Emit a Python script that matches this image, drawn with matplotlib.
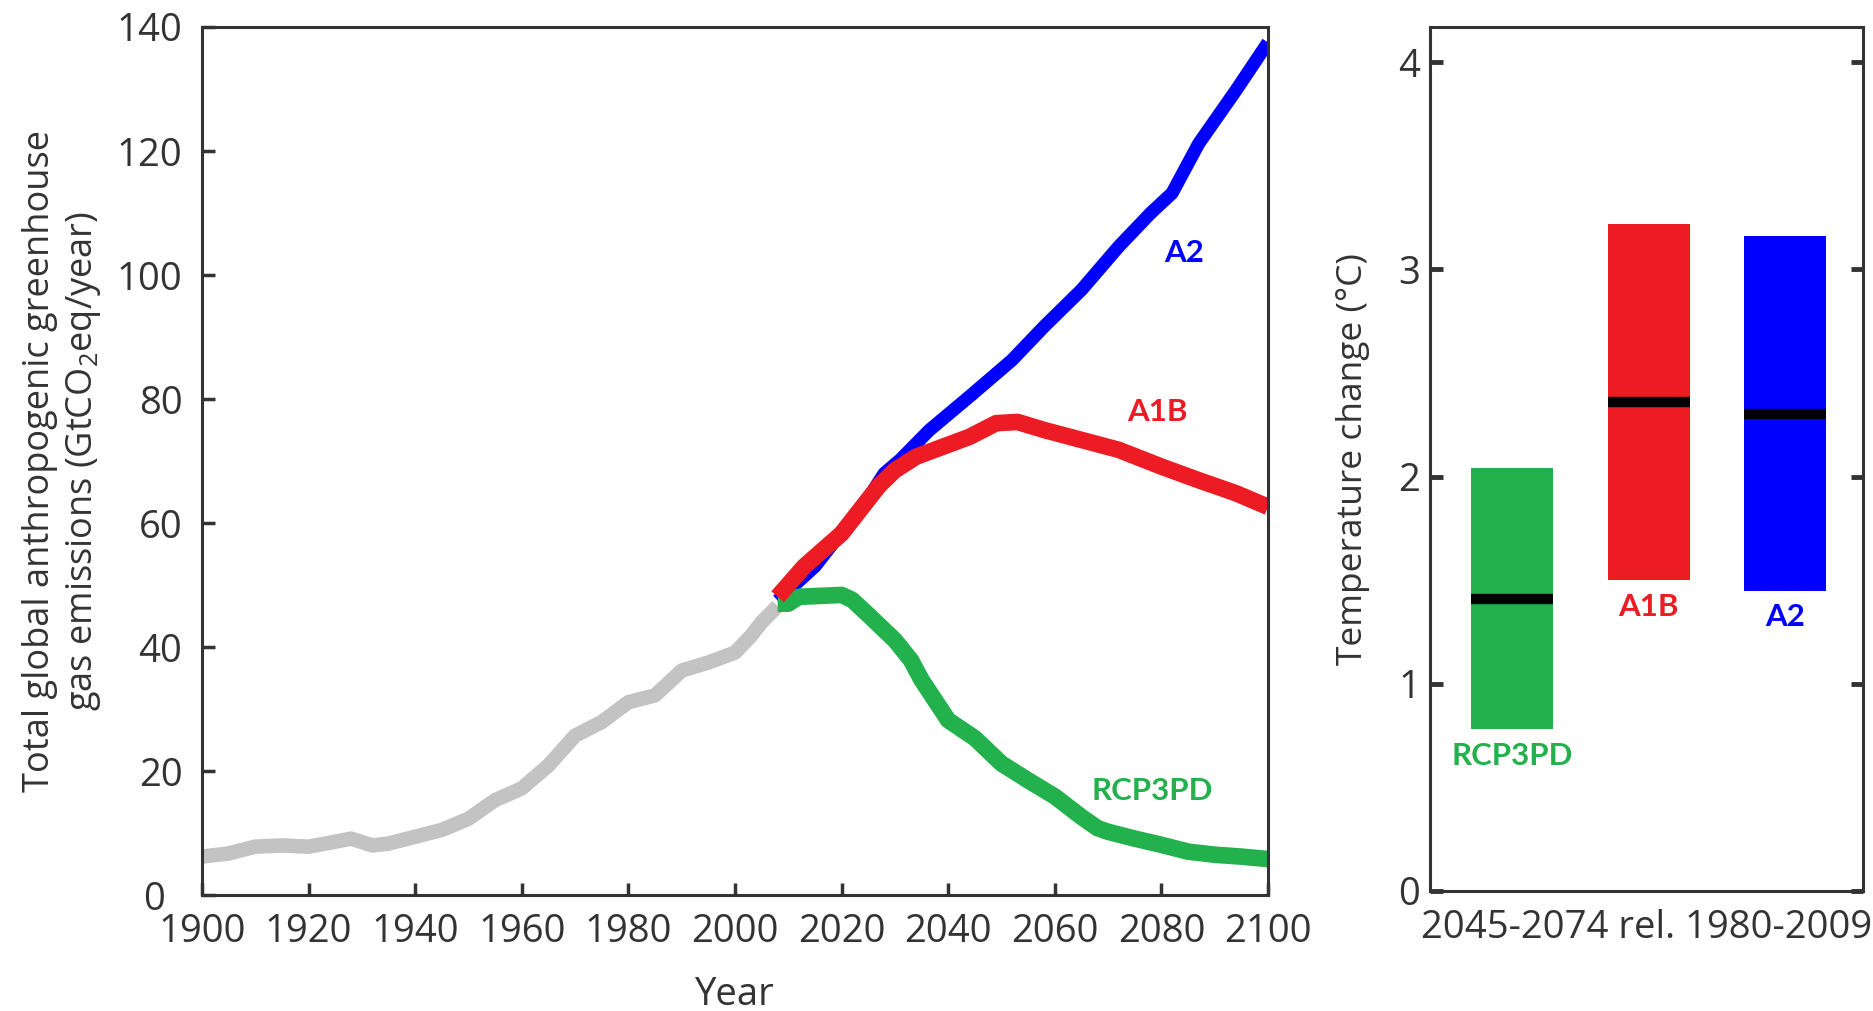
import matplotlib
matplotlib.use("Agg")
import matplotlib.pyplot as plt
import matplotlib.transforms as mtransforms
import numpy as np

plt.rcParams["font.family"] = ["Open Sans", "DejaVu Sans"]
plt.rcParams["mathtext.fontset"] = "custom"
plt.rcParams["mathtext.rm"] = "Open Sans"
plt.rcParams["mathtext.it"] = "Open Sans"

# historical emissions (GtCO2eq/year)
hist_years = [1900, 1905, 1910, 1915, 1920, 1925, 1928, 1932, 1935, 1940, 1945, 1950,
              1955, 1960, 1965, 1970, 1975, 1980, 1985, 1990, 1995, 2000, 2003, 2005, 2008]
hist_vals = [6.2, 6.7, 7.8, 8.0, 7.8, 8.6, 9.1, 8.0, 8.3, 9.4, 10.5, 12.3,
             15.3, 17.2, 20.9, 25.7, 27.9, 31.1, 32.2, 36.2, 37.5, 39.1, 41.8, 44.0, 46.6]

# scenarios
a2_years = [2008, 2015, 2020, 2025, 2028, 2031, 2036.5, 2044, 2052, 2058, 2065, 2072,
            2078, 2082, 2087, 2094, 2100]
a2_vals = [47.5, 53.0, 58.5, 64.0, 68.0, 70.2, 75.0, 80.4, 86.3, 91.7, 97.6, 104.6,
           110.0, 113.2, 121.2, 129.8, 137.5]

a1b_years = [2008, 2013, 2020, 2027, 2030, 2034, 2044, 2049, 2053, 2058, 2065, 2072,
             2080, 2087, 2094, 2100]
a1b_vals = [48.1, 53.0, 58.3, 66.0, 68.5, 70.7, 73.9, 76.1, 76.3, 75.0, 73.4, 71.8,
            69.1, 66.9, 64.8, 62.6]

rcp_years = [2008, 2010, 2012, 2020, 2022, 2025, 2030, 2033, 2035, 2040, 2045, 2050,
             2055, 2060, 2065, 2068, 2070, 2075, 2080, 2085, 2090, 2095, 2100]
rcp_vals = [47.0, 47.0, 48.1, 48.4, 47.6, 45.2, 41.1, 37.9, 34.7, 28.2, 25.3, 21.2,
            18.5, 15.9, 12.6, 10.8, 10.2, 9.1, 8.1, 7.0, 6.5, 6.2, 5.8]

# temperature change 2045-2074 rel. 1980-2009
scenarios = ["RCP3PD", "A1B", "A2"]
temp_low = [0.78, 1.50, 1.45]
temp_high = [2.04, 3.22, 3.16]
temp_median = [1.41, 2.36, 2.30]

GREY = "#c3c3c3"
BLUE = "#0000ff"
RED = "#ed1c24"
GREEN = "#22b14c"
TXT = "#333333"
colors = [GREEN, RED, BLUE]

fig = plt.figure(figsize=(18.73, 10.11), dpi=100)
ax = fig.add_axes([0.1078, 0.1147, 0.5692, 0.8586])
ax2 = fig.add_axes([0.7635, 0.1187, 0.2312, 0.8546])

# left panel
ax.plot(hist_years, hist_vals, color=GREY, lw=10.5, solid_capstyle="butt")
ax.plot(a2_years, a2_vals, color=BLUE, lw=9.5, solid_capstyle="butt")
ax.plot(rcp_years, rcp_vals, color=GREEN, lw=12, solid_capstyle="butt")
ax.plot(a1b_years, a1b_vals, color=RED, lw=12, solid_capstyle="butt")

lab_font = dict(family=["Lato", "DejaVu Sans"], fontweight="bold", fontsize=22.5,
                ha="center", va="center")
ax.text(2084.2, 103.5, "A2", color=BLUE, **lab_font)
ax.text(2079.2, 77.9, "A1B", color=RED, **lab_font)
ax.text(2078.2, 16.7, "RCP3PD", color=GREEN, **lab_font)

ax.set_xlim(1900, 2100)
ax.set_ylim(0, 140)
ax.set_xticks(np.arange(1900, 2101, 20))
ax.set_yticks(np.arange(0, 141, 20))
ax.tick_params(direction="in", length=9, width=2.5, color=TXT, labelsize=27.5,
               labelcolor=TXT, top=False, right=False)
ax.tick_params(axis="y", pad=14)
ax.tick_params(axis="x", pad=13)
for s in ax.spines.values():
    s.set_linewidth(2.2)
    s.set_color(TXT)
ax.set_xlabel("Year", fontsize=27.5, color=TXT, labelpad=18)
ax.set_ylabel("Total global anthropogenic greenhouse\ngas emissions (GtCO$_2$eq/year)",
              fontsize=26, color=TXT, linespacing=1.2)
ax.yaxis.set_label_coords(-0.093, 0.5)

# nudge the "0" label left so it clears "1900"
zero_lab = ax.yaxis.get_major_ticks()[0].label1
zero_lab.set_transform(zero_lab.get_transform()
                       + mtransforms.ScaledTranslation(-0.17, 0, fig.dpi_scale_trans))

# right panel
x = np.arange(1, len(scenarios) + 1)
heights = np.array(temp_high) - np.array(temp_low)
ax2.bar(x, heights, bottom=temp_low, width=0.6, color=colors)
ax2.hlines(temp_median, x - 0.3, x + 0.3, color="black", lw=7.5)
for xi, lo, name, c in zip(x, temp_low, scenarios, colors):
    ax2.text(xi, lo - 0.13, name, color=c, **lab_font)

ax2.set_xlim(0.4, 3.57)
ax2.set_ylim(0, 4.17)
ax2.set_xticks([])
ax2.set_yticks([0, 1, 2, 3, 4])
ax2.tick_params(axis="y", direction="in", length=9, width=3.5, color=TXT,
                labelsize=27.5, labelcolor=TXT, left=True, right=True, pad=7)
for s in ax2.spines.values():
    s.set_linewidth(2.2)
    s.set_color(TXT)
ax2.set_xlabel("2045-2074 rel. 1980-2009", fontsize=27.5, color=TXT, labelpad=13)
ax2.set_ylabel("Temperature change (\u00b0C)", fontsize=25.5, color=TXT)
ax2.yaxis.set_label_coords(-0.139, 0.5)

fig.savefig("out.png", dpi=100)
